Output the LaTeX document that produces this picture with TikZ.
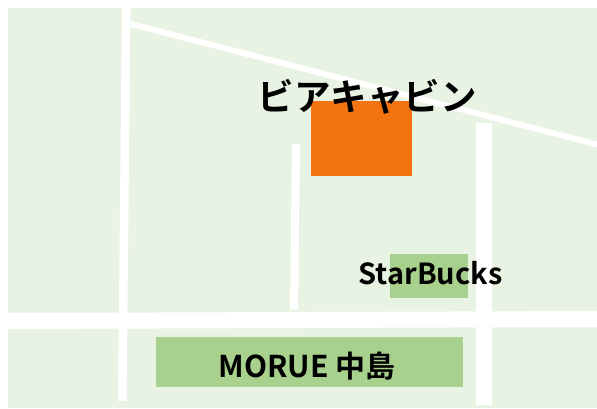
\documentclass[tikz,border=0pt]{standalone}
\usepackage{fontspec}
\newfontfamily\jpb{Noto Sans CJK JP Bold}
\tikzset{
 land/.style={fill=landgreen,draw=none},
 road/.style={fill=white,draw=none},
 shop/.style={fill=shopgreen,draw=none},
 lbl/.style={inner sep=0pt,text=black,font=\jpb}
}
\definecolor{landgreen}{HTML}{E9F3E3}
\definecolor{shopgreen}{HTML}{A9D18E}
\definecolor{mainorange}{HTML}{F37310}
\begin{document}
\begin{tikzpicture}[x=1pt,y=-1pt]
\useasboundingbox (0,0) rectangle (597,408);
\fill[land] (8,8) rectangle (597,408);
% roads
\fill[road] (122,8) -- (130.5,8) -- (126.5,401) -- (118,401) -- cycle;
\fill[road] (131,21) -- (597,141.5) -- (597,147.5) -- (131,27) -- cycle;
\fill[road] (8,313) -- (597,311) -- (597,327) -- (8,329) -- cycle;
\fill[road] (292,144) -- (300,144) -- (298,309.5) -- (290,309.5) -- cycle;
\fill[road] (475.5,123) -- (491.5,123) -- (491.5,405) -- (475.5,405) -- cycle;
% blocks
\node[fill=mainorange,draw=none,minimum width=101pt,minimum height=75pt,inner sep=0pt,anchor=north west] (cabin) at (311,101) {};
\node[shop,minimum width=78pt,minimum height=44pt,inner sep=0pt,anchor=north west] (star) at (390,254) {};
\node[shop,minimum width=307pt,minimum height=50pt,inner sep=0pt,anchor=north west] (morue) at (156,337) {};
% labels
\node[lbl,font=\jpb\fontsize{36.5}{36.5}\selectfont] (t1) at (367,97) {ビアキャビン};
\node[lbl,font=\jpb\fontsize{29}{29}\selectfont] (t2) at (430.5,273) {StarBucks};
\node[lbl,font=\jpb\fontsize{30}{30}\selectfont] (t3) at (307,366) {MORUE 中島};
\end{tikzpicture}
\end{document}
